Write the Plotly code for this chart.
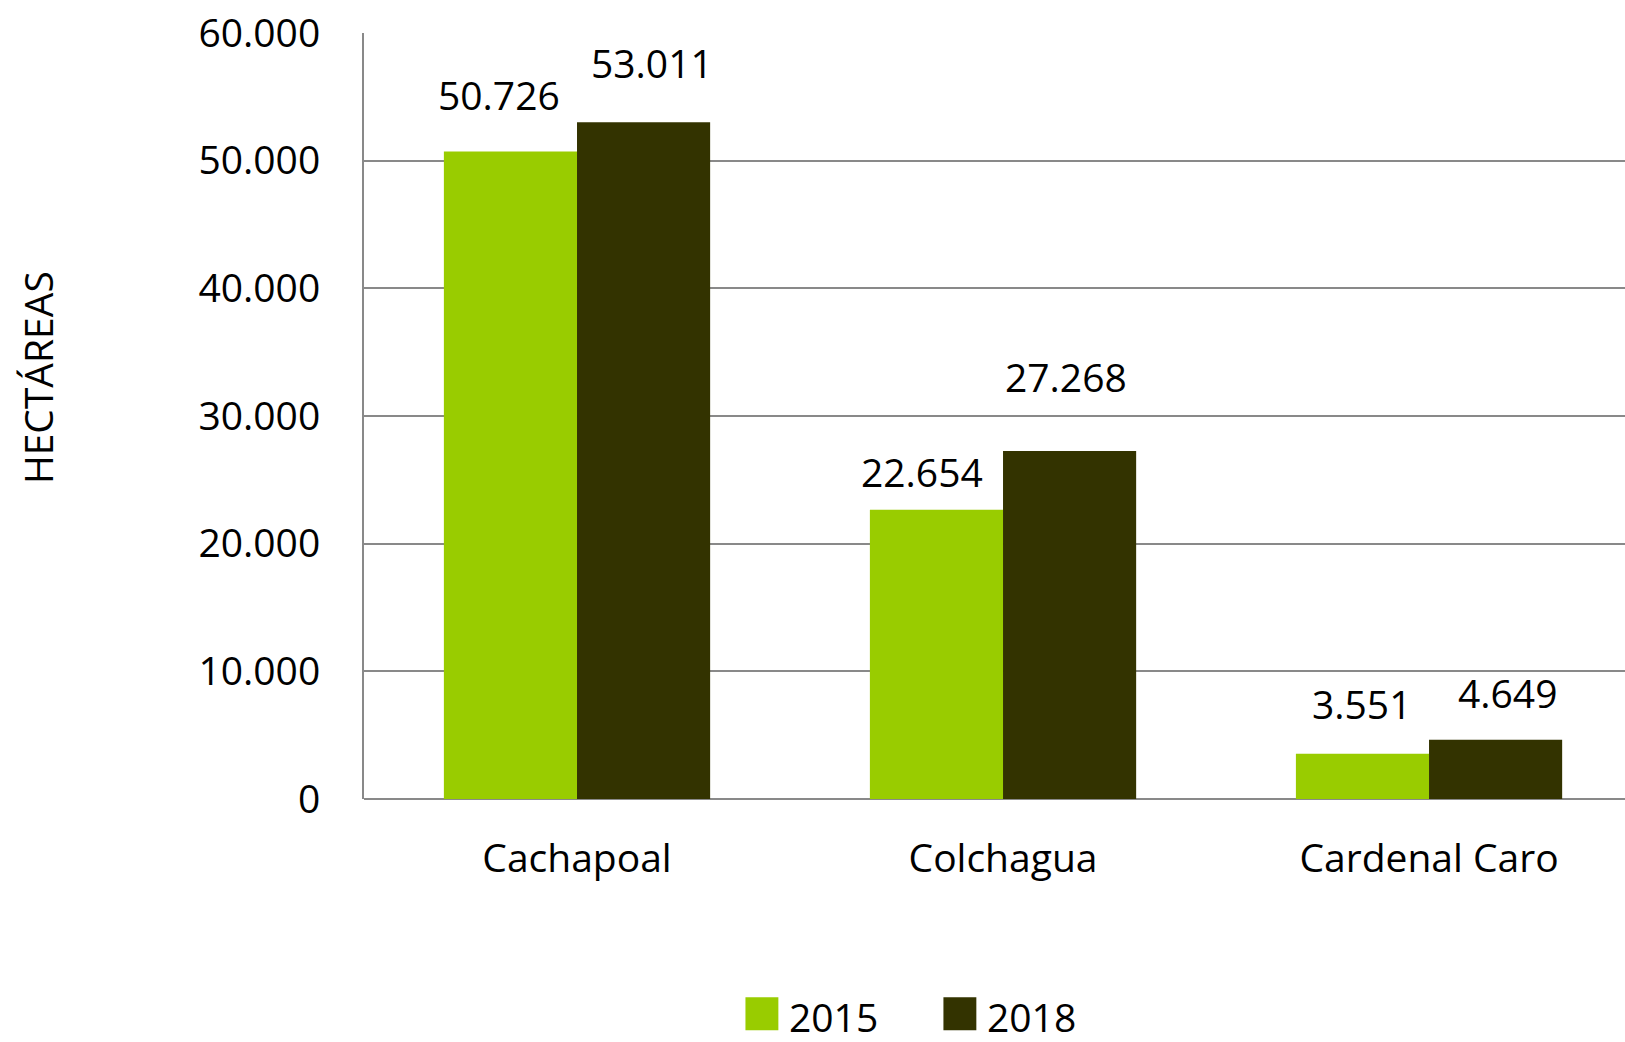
import plotly.graph_objects as go

categories = ["Cachapoal", "Colchagua", "Cardenal Caro"]
years = ["2015", "2018"]
values_2015 = [50726, 22654, 3551]
values_2018 = [53011, 27268, 4649]
tick_vals = [0, 10000, 20000, 30000, 40000, 50000, 60000]
tick_text = ["0", "10.000", "20.000", "30.000", "40.000", "50.000", "60.000"]

colors = ["#99CC00", "#333300"]
FONT = "Open Sans"
FS = 39

# label pixel nudges (style), per series per category
label_dx = [[-12, -15, -1], [8, -4, 12]]
label_dy = [[57, 38, 50], [60, 74, 47]]

def fmt(v):
    return f"{v:,}".replace(",", ".")

fig = go.Figure()
series = [values_2015, values_2018]
for i, (name, vals) in enumerate(zip(years, series)):
    fig.add_trace(go.Bar(x=categories, y=vals, name=name, showlegend=False,
                         marker=dict(color=colors[i], line=dict(width=0))))

BAR_HALF_PX = 66.5
annotations = []
for i, vals in enumerate(series):
    sign = -1 if i == 0 else 1
    for j, (c, v) in enumerate(zip(categories, vals)):
        annotations.append(dict(x=c, y=v, xref="x", yref="y", text=fmt(v),
                                showarrow=False, xanchor="center", yanchor="middle",
                                xshift=sign * BAR_HALF_PX + label_dx[i][j],
                                yshift=label_dy[i][j],
                                font=dict(family=FONT, size=FS, color="#000000")))
annotations.append(dict(x=-0.259, y=0.55, xref="paper", yref="paper", text="HECTÁREAS",
                        textangle=-90, showarrow=False, xanchor="center", yanchor="middle",
                        font=dict(family=FONT, size=FS, color="#000000")))

# legend (drawn as swatches + text, paper coordinates)
leg_x0 = [0.3025, 0.4595]
leg_w = 0.0261
leg_y0, leg_y1 = -0.3020, -0.2589
shapes = []
for i, name in enumerate(years):
    shapes.append(dict(type="rect", xref="paper", yref="paper",
                       x0=leg_x0[i], x1=leg_x0[i] + leg_w, y0=leg_y0, y1=leg_y1,
                       fillcolor=colors[i], line=dict(width=0)))
    annotations.append(dict(x=leg_x0[i] + leg_w + 0.007, y=(leg_y0 + leg_y1) / 2 - 0.003,
                            xref="paper", yref="paper", text=name, showarrow=False,
                            xanchor="left", yanchor="middle",
                            font=dict(family=FONT, size=FS, color="#000000")))

fig.update_layout(
    width=1625, height=1042,
    margin=dict(l=364, r=0, t=33, b=243),
    paper_bgcolor="white", plot_bgcolor="white",
    barmode="group", bargap=0.375, bargroupgap=0,
    font=dict(family=FONT, size=FS, color="#000000"),
    annotations=annotations, shapes=shapes,
    showlegend=False,
    xaxis=dict(range=[-0.5, 2.46], showline=False, ticks="", tickfont=dict(family=FONT, size=FS),
               ticklabelstandoff=33, showgrid=False, zeroline=False, automargin=False),
    yaxis=dict(range=[0, 60000], tickvals=tick_vals, ticktext=tick_text,
               showgrid=True, gridcolor="#898989", gridwidth=2,
               showline=True, linecolor="#898989", linewidth=2,
               zeroline=True, zerolinecolor="#898989", zerolinewidth=2,
               ticks="", ticklabelstandoff=34, automargin=False,
               tickfont=dict(family=FONT, size=FS)),
)

fig.write_html("out.html", config={"displayModeBar": False},
               post_script="document.body.style.margin='0';document.body.style.overflow='hidden';")
